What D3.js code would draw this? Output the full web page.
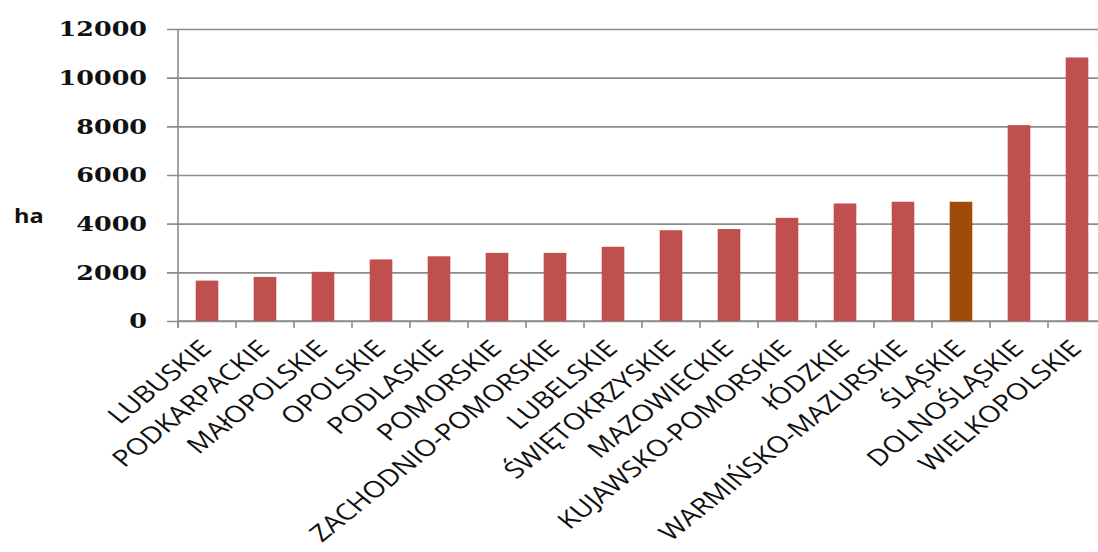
<!DOCTYPE html>
<html>
<head>
<meta charset="utf-8">
<script src="https://cdn.jsdelivr.net/npm/d3@7"></script>
<style>
  body { margin: 0; background: #fff; }
  svg { display: block; }
</style>
</head>
<body>
<div id="chart"></div>
<script>
var regions = ["LUBUSKIE", "PODKARPACKIE", "MAłOPOLSKIE", "OPOLSKIE", "PODLASKIE",
  "POMORSKIE", "ZACHODNIO-POMORSKIE", "LUBELSKIE", "ŚWIĘTOKRZYSKIE", "MAZOWIECKIE",
  "KUJAWSKO-POMORSKIE", "łÓDZKIE", "WARMIŃSKO-MAZURSKIE", "ŚLĄSKIE", "DOLNOŚLĄSKIE",
  "WIELKOPOLSKIE"];
var area = [1660, 1810, 2020, 2530, 2660, 2800, 2800, 3050, 3730, 3780,
  4240, 4830, 4900, 4900, 8050, 10830];
var highlight = "ŚLĄSKIE";
var yTicks = [0, 2000, 4000, 6000, 8000, 10000, 12000];

var W = 1098, H = 552;
var margin = {top: 29, left: 178},
    plotW = 928,   // plot runs past the right edge, like the original crop
    plotH = 292;
var stretch = 1.24;  // the source picture is stretched sideways

var svg = d3.select("#chart").append("svg")
    .attr("width", W)
    .attr("height", H);

var g = svg.append("g")
    .attr("transform", "translate(" + margin.left + "," + margin.top + ")");

var x = d3.scaleBand()
    .domain(regions)
    .range([0, plotW])
    .paddingInner(0.61)
    .paddingOuter(0.305);

var y = d3.scaleLinear()
    .domain([0, 12000])
    .range([plotH, 0]);

// gridlines
var yAxis = g.append("g")
    .call(d3.axisLeft(y).tickValues(yTicks).tickSize(-plotW).tickFormat(""));
yAxis.select(".domain").remove();
yAxis.selectAll(".tick line")
    .attr("x1", -11)
    .attr("stroke", "#8c8c8c")
    .attr("stroke-width", 1.6);

// y tick labels
g.selectAll(".ylab")
    .data(yTicks)
  .enter().append("text")
    .attr("class", "ylab")
    .attr("transform", function(d) {
      return "translate(-31," + y(d) + ") scale(" + stretch + ",1)";
    })
    .attr("dy", "0.36em")
    .attr("text-anchor", "end")
    .attr("font-family", "DejaVu Serif")
    .attr("font-weight", "bold")
    .attr("font-size", 20.5)
    .attr("fill", "#111")
    .text(function(d) { return d; });

// x axis
var band = x.step();
var xAxis = g.append("g")
    .attr("transform", "translate(0," + plotH + ")");
xAxis.append("line")
    .attr("x1", 0).attr("x2", plotW)
    .attr("stroke", "#8c8c8c").attr("stroke-width", 1.6);
xAxis.selectAll(".xtick")
    .data(d3.range(regions.length + 1))
  .enter().append("line")
    .attr("x1", function(i) { return i * band; })
    .attr("x2", function(i) { return i * band; })
    .attr("y1", 0).attr("y2", 7)
    .attr("stroke", "#8c8c8c").attr("stroke-width", 1.6);

g.append("line")
    .attr("x1", 0).attr("x2", 0)
    .attr("y1", 0).attr("y2", plotH + 7)
    .attr("stroke", "#8c8c8c").attr("stroke-width", 1.6);

// bars
g.selectAll(".bar")
    .data(regions)
  .enter().append("rect")
    .attr("class", "bar")
    .attr("x", function(d) { return x(d); })
    .attr("width", x.bandwidth())
    .attr("y", function(d, i) { return y(area[i]); })
    .attr("height", function(d, i) { return plotH - y(area[i]); })
    .attr("fill", function(d) { return d === highlight ? "#A14B0B" : "#C0504D"; });

// category labels
g.selectAll(".label")
    .data(regions)
  .enter().append("text")
    .attr("class", "label")
    .attr("transform", function(d) {
      return "translate(" + (x(d) + x.bandwidth() / 2 + 6) + "," + (plotH + 29) +
        ") scale(" + stretch + ",1) rotate(-45)";
    })
    .attr("text-anchor", "end")
    .attr("font-family", "'Open Sans'")
    .attr("font-size", 23)
    .attr("fill", "#111")
    .text(function(d) { return d; });

// unit label
svg.append("text")
    .attr("transform", "translate(14,223) scale(" + stretch + ",1)")
    .attr("font-family", "'Open Sans'")
    .attr("font-weight", "bold")
    .attr("font-size", 19)
    .attr("fill", "#111")
    .text("ha");
</script>
</body>
</html>
